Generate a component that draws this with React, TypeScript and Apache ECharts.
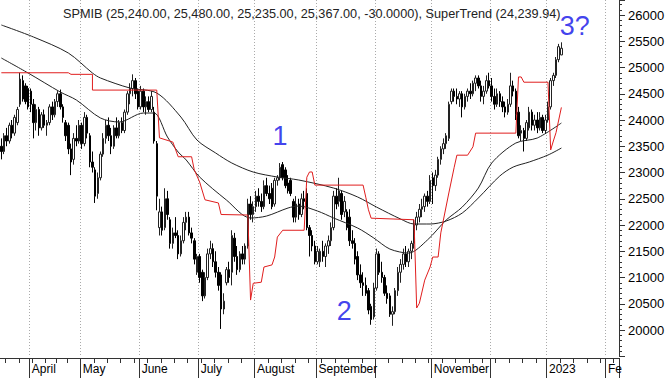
import React, { useEffect, useRef } from "react";
import * as echarts from "echarts";

const FONT = "'Liberation Sans', Arial, sans-serif";
const TITLE = "SPMIB (25,240.00, 25,480.00, 25,235.00, 25,367.00, -30.0000), SuperTrend (24,239.94)";

// trading calendar
const START = [2022, 2, 17];
const CATEGORY_COUNT = 231;
const HOLIDAYS = ["2022-04-15", "2022-04-18", "2022-12-26"];
const MONTH_LABELS: Record<string, string> = {
  "2022-04": "April", "2022-05": "May", "2022-06": "June", "2022-07": "July",
  "2022-08": "August", "2022-09": "September", "2022-10": "", "2022-11": "November",
  "2022-12": "", "2023-01": "2023", "2023-02": "Fe",
};
const Y_LABEL_MIN = 20000;

// OHLC values, one per trading day from 17 March 2022
const opens = [23500,23400,23700,23600,23900,23750,23950,24300,24750,24650,24600,24550,24300,23950,24200,23850,24100,23900,23950,24250,24100,24350,24500,24250,23950,23900,23450,23250,23650,23600,23900,23550,24050,23700,23200,23050,22600,22900,23350,23650,23900,23700,23500,23850,23700,23950,23800,24150,24500,24600,24750,24550,24250,24550,24250,24350,24200,24150,23550,21950,22250,21950,22500,22100,21650,21850,21800,21450,21700,22050,22150,21850,21700,21100,21400,21100,20650,21000,21450,21550,21300,21100,21050,20400,20900,21150,21100,21750,21400,21150,21450,21350,21600,22400,22200,22350,22550,22450,22350,22750,22600,22700,22400,22850,22900,23150,23050,22800,22850,22450,22150,22400,22200,22500,22600,21950,21800,21600,21300,21300,21500,21400,21600,21700,21950,22550,22450,22600,22250,22250,22150,21700,21650,21400,21050,20900,20850,20750,20450,20250,20800,21450,21100,21000,20700,20650,20300,20350,20750,21100,21250,21450,21300,21500,21650,22000,22150,22300,22350,22550,22450,22900,22750,22950,23250,23450,23550,23650,24350,24550,24450,24400,24500,24250,24450,24550,24500,24700,24800,24650,24450,24550,24750,24650,24450,24300,24500,24350,24250,24150,24300,24650,24550,24150,23750,23800,23650,23850,24150,23900,24000,23850,24050,23800,24000,24250,24750,24850,25150,25240];
const highs = [23650,23750,23850,23950,24000,24100,24250,24900,24850,24700,24650,24600,24400,24300,24250,24150,24200,24000,24300,24350,24400,24550,24580,24300,24000,23950,23550,23750,23900,24000,23950,24150,24100,23750,23400,23100,23000,23400,23750,24000,24050,23850,23900,24050,24000,24050,24200,24550,24700,24870,24800,24600,24650,24600,24450,24450,24550,24250,23600,22500,22350,22700,22650,22150,21950,22150,21900,21800,22150,22250,22250,21950,21750,21450,21450,21150,21100,21550,21700,21650,21500,21200,21100,20700,21200,21300,21900,21850,21600,21500,21600,21650,22500,22550,22450,22650,22700,22600,22850,22900,22750,22800,22900,22950,23180,23200,23100,22950,22900,22500,22550,22500,22600,22650,22700,22000,21900,21700,21600,21550,21700,21650,21800,22050,22650,22700,22900,22650,22550,22300,22300,21900,21750,21500,21250,21100,21000,20800,20500,20900,21550,21500,21300,21050,20850,20700,20450,20800,21200,21350,21550,21600,21550,21700,22100,22250,22400,22500,22600,22650,22950,23000,23050,23300,23500,23650,23750,24350,24600,24600,24600,24550,24550,24500,24600,24700,24750,24850,24850,24750,24650,24850,24900,24800,24600,24600,24550,24450,24350,24400,24900,24750,24600,24250,23900,23850,24000,24250,24200,24100,24150,24150,24100,24100,24350,24800,24900,25200,25450,25480];
const lows = [23250,23350,23500,23550,23650,23700,23900,24250,24350,24300,24200,24150,23650,23800,23700,23800,23850,23700,23900,24000,24050,24250,24200,23950,23600,23350,22950,23150,23500,23550,23450,23500,23650,23100,23000,22420,22500,22850,23300,23550,23600,23350,23450,23650,23650,23750,23750,24100,24300,24450,24400,24200,24200,24150,24100,24150,24150,23550,22280,21800,21800,21900,22100,21550,21550,21750,21350,21400,21650,21900,21800,21650,21250,21050,20900,20550,20600,20950,21350,21200,21000,20750,20020,20300,20850,20900,20850,21300,21050,21100,21250,21250,21550,22100,22050,22250,22350,22250,22300,22550,22400,22300,22350,22750,22850,22850,22700,22600,22550,22050,22050,22100,22150,22300,21900,21400,21500,21250,21250,21200,21300,21200,21450,21600,21900,22300,22350,22100,22150,21900,21600,21550,21250,20950,20800,20650,20650,20300,20100,20200,20750,21050,20900,20650,20500,20250,20080,20300,20650,20900,21150,21200,21200,21350,21550,21900,22050,22150,22250,22350,22400,22400,22650,22900,23150,23350,23450,23600,24300,24350,24300,24250,24050,24200,24350,24400,24450,24550,24600,24350,24300,24500,24600,24350,24200,24250,24250,24150,24050,24100,24250,24450,24000,23650,23600,23400,23600,23800,23800,23800,23750,23800,23750,23750,23950,24200,24650,24800,25100,25235];
const closes = [23400,23700,23600,23900,23750,24050,24200,24780,24400,24350,24250,24300,23950,24200,23850,24100,23900,23950,24250,24100,24350,24500,24250,24050,23700,23450,23200,23650,23600,23900,23550,24050,23750,23200,23100,22550,22900,23350,23650,23900,23700,23500,23850,23700,23950,23800,24150,24500,24600,24750,24500,24250,24550,24250,24350,24200,24450,23600,22550,22250,21900,22500,22200,21650,21850,21800,21450,21700,22050,22150,21850,21750,21350,21400,21000,20650,21000,21450,21550,21300,21100,20850,20400,20550,21150,21000,21800,21400,21150,21450,21350,21600,22400,22200,22350,22550,22450,22350,22750,22600,22500,22350,22850,22900,23100,22900,22750,22650,22600,22150,22400,22200,22500,22450,21950,21800,21600,21300,21500,21500,21400,21600,21700,21950,22550,22400,22650,22200,22450,21950,21700,21650,21350,21050,20900,20850,20700,20380,20200,20800,21450,21100,21000,20700,20600,20300,20350,20750,21100,21250,21450,21300,21500,21650,22000,22150,22300,22350,22550,22450,22850,22750,22950,23250,23450,23550,23700,24300,24550,24450,24400,24500,24250,24450,24550,24500,24700,24800,24650,24450,24550,24750,24650,24450,24300,24500,24350,24250,24150,24300,24650,24550,24100,23700,23800,23650,23950,24150,23900,24000,23850,24050,23800,24000,24250,24750,24850,25150,25397,25367];

// moving averages: [trading-day index, value]
const maSlow = [[0,25810],[12,25581],[25,25276],[34,24895],[37,24800],[48,24609],[58,24514],[67,24057],[73,23619],[80,23371],[86,23181],[94,23009],[103,22914],[111,22857],[124,22704],[133,22533],[140,22342],[149,22114],[154,22019],[160,22019],[166,22076],[172,22228],[178,22514],[186,22933],[191,23104],[197,23200],[204,23333],[209,23466]];
const maFast = [[0,25181],[10,24895],[22,24533],[28,24381],[37,24038],[44,23962],[53,24133],[57,24133],[62,23676],[66,23390],[69,23238],[74,22914],[84,22476],[93,22133],[99,22171],[107,22324],[111,22362],[118,22266],[124,22133],[133,21942],[139,21752],[145,21542],[152,21466],[159,21714],[166,22095],[172,22342],[178,22704],[183,23181],[192,23562],[200,23657],[209,23943]];
// SuperTrend line: [trading-day index, value]
const superTrend = [[0,24900],[25,24900],[26,24870],[34,24870],[34,24570],[58,24570],[59,23660],[64,23580],[66,23300],[71,23300],[72,23050],[74,22820],[76,22480],[81,22420],[82,22200],[92,22190],[93,20570],[94,20890],[97,20910],[98,21200],[101,21240],[102,21390],[103,21770],[105,21900],[113,21900],[114,22910],[115,23010],[116,23010],[117,22760],[135,22760],[136,22530],[137,22290],[138,22130],[154,22100],[155,20420],[156,20510],[158,20950],[160,21200],[161,21390],[163,21390],[164,21850],[167,22610],[169,23100],[170,23330],[174,23330],[176,23490],[177,23750],[192,23750],[193,24820],[194,24820],[195,24720],[204,24720],[205,23430],[206,23600],[207,23760],[208,24000],[209,24240]];
// blue annotations: [text, trading-day index, value]
const notes: [string, number, number][] = [["1", 104, 23695], ["2", 128, 20362], ["3?", 214, 25800]];

function buildCategories(): string[] {
  const out: string[] = [];
  const d = new Date(Date.UTC(START[0], START[1], START[2]));
  while (out.length < CATEGORY_COUNT) {
    const dow = d.getUTCDay();
    const iso = d.toISOString().slice(0, 10);
    if (dow !== 0 && dow !== 6 && !HOLIDAYS.includes(iso)) out.push(iso);
    d.setUTCDate(d.getUTCDate() + 1);
  }
  return out;
}

export default function App() {
  const ref = useRef<HTMLDivElement>(null);
  useEffect(() => {
    if (!ref.current) return;
    const chart = echarts.init(ref.current, undefined, { renderer: "svg" });
    const cats = buildCategories();
    const monthStart = (i: number) => i > 0 && cats[i].slice(0, 7) !== cats[i - 1].slice(0, 7);
    const dow = (s: string) => new Date(s + "T00:00:00Z").getUTCDay();
    const weekStart = (i: number) => i > 0 && dow(cats[i]) <= dow(cats[i - 1]);
    const candles = closes.map((c, i) => [opens[i], c, lows[i], highs[i]]);
    const axisColor = "#333";
    chart.setOption({
      animation: false,
      backgroundColor: "#ffffff",
      title: {
        text: TITLE, left: 58, top: 2,
        textStyle: { fontSize: 12.7, fontWeight: "normal", color: "#222", fontFamily: FONT },
      },
      grid: { left: 0, right: 53, top: 0, bottom: 21.75 },
      xAxis: [
        {
          type: "category", data: cats, boundaryGap: true, offset: 1.75,
          axisLine: { show: true, onZero: false, lineStyle: { color: axisColor, width: 1 } },
          axisTick: { show: true, interval: (i: number) => monthStart(i), length: 20, lineStyle: { color: axisColor } },
          axisLabel: {
            show: true, interval: (i: number) => monthStart(i),
            formatter: (v: string) => MONTH_LABELS[v.slice(0, 7)] ?? "",
            align: "left", margin: 5, fontSize: 12, color: "#000", fontFamily: FONT, padding: [0, 0, 0, 1],
          },
          splitLine: { show: true, interval: (i: number) => monthStart(i), lineStyle: { type: [1, 2], color: "#aaa", width: 1 } },
        },
        {
          type: "category", data: cats, boundaryGap: true, offset: 1.75, position: "bottom",
          axisLine: { show: false },
          axisTick: { show: true, interval: (i: number) => weekStart(i), length: 5, lineStyle: { color: axisColor } },
          axisLabel: { show: false },
          splitLine: { show: false },
        },
      ],
      yAxis: {
        type: "value", position: "right", min: 19500, max: 26286, interval: 500,
        axisLine: { show: true, lineStyle: { color: axisColor } },
        axisTick: { show: true, length: 6, lineStyle: { color: axisColor } },
        minorTick: { show: true, splitNumber: 5, length: 3, lineStyle: { color: axisColor } },
        splitLine: { show: false },
        axisLabel: {
          formatter: (v: number) => (v % 500 === 0 && v >= Y_LABEL_MIN ? String(v) : ""),
          fontSize: 13, color: "#000", margin: 9, fontFamily: FONT, showMaxLabel: false,
        },
      },
      series: [
        {
          type: "candlestick", data: candles, barWidth: 2,
          itemStyle: { color: "#ffffff", color0: "#000000", borderColor: "#222", borderColor0: "#000", borderWidth: 1 },
        },
        { type: "line", data: maSlow, symbol: "none", smooth: 0.3, lineStyle: { color: "#222", width: 1 }, silent: true },
        { type: "line", data: maFast, symbol: "none", smooth: 0.3, lineStyle: { color: "#222", width: 1 }, silent: true },
        { type: "line", data: superTrend, symbol: "none", smooth: false, lineStyle: { color: "#e01e1e", width: 1 }, silent: true },
        {
          type: "scatter", symbolSize: 1, itemStyle: { color: "rgba(0,0,0,0)" }, silent: true,
          data: notes.map(([t, i, v]) => ({ name: t, value: [i, v] })),
          label: { show: true, position: "inside", formatter: "{b}", fontSize: 27, color: "#1010e8", fontFamily: FONT },
        },
      ],
    });
    return () => chart.dispose();
  }, []);
  return <div ref={ref} style={{ position: "fixed", left: 0, top: 0, width: 672, height: 378, background: "#fff" }} />;
}
